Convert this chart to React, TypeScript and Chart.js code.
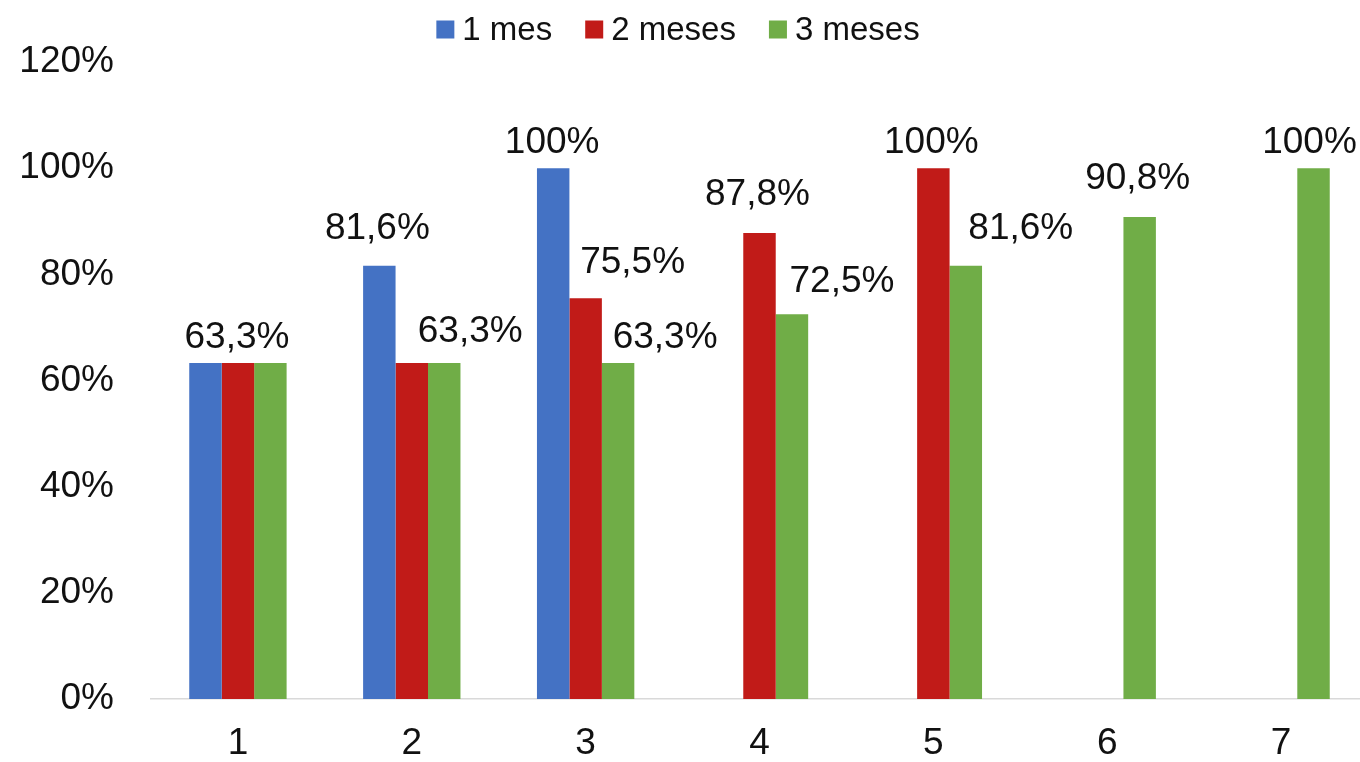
import React, { useEffect, useRef } from "react";
import { Chart, registerables } from "chart.js";

Chart.register(...registerables);

// ---- Data ----
const categories = ["1", "2", "3", "4", "5", "6", "7"];
const seriesNames = ["1 mes", "2 meses", "3 meses"];
const values1Mes: (number | null)[] = [63.3, 81.6, 100, null, null, null, null];
const values2Meses: (number | null)[] = [63.3, 63.3, 75.5, 87.8, 100, null, null];
const values3Meses: (number | null)[] = [63.3, 63.3, 63.3, 72.5, 81.6, 90.8, 100];
const yTickValues = [0, 20, 40, 60, 80, 100, 120];

// ---- Styling ----
const COLORS = ["#4472C4", "#C11B18", "#70AD47"];
const FONT_FAMILY = "'Liberation Sans', Arial, Helvetica, sans-serif";
const TEXT_COLOR = "#111111";

// Data label placement (offset of label centre from bar top centre), null = hidden
type Off = [number, number] | null;
const labelOffsets1: Off[] = [null, [-2, -37], [-1, -25], null, null, null, null];
const labelOffsets2: Off[] = [[-1, -25], null, [47, -35], [-2, -38], [-2, -25], null, null];
const labelOffsets3: Off[] = [null, [26, -31], [47, -25], [50, -32], [55, -37], [-2, -38], [-4, -25]];
const labelOffsets = [labelOffsets1, labelOffsets2, labelOffsets3];

const fmtPct = (v: number) =>
  Number.isInteger(v) ? `${v}%` : `${v.toFixed(1).replace(".", ",")}%`;

const dataLabelPlugin = {
  id: "customDataLabels",
  afterDatasetsDraw(chart: any) {
    const ctx = chart.ctx;
    ctx.save();
    ctx.font = `37px ${FONT_FAMILY}`;
    ctx.fillStyle = TEXT_COLOR;
    ctx.textAlign = "center";
    ctx.textBaseline = "middle";
    chart.data.datasets.forEach((ds: any, di: number) => {
      const meta = chart.getDatasetMeta(di);
      meta.data.forEach((el: any, i: number) => {
        const v = ds.data[i];
        const off = labelOffsets[di][i];
        if (v == null || !off) return;
        ctx.fillText(fmtPct(v), el.x + off[0], el.y + off[1]);
      });
    });
    ctx.restore();
  },
};

const legendPlugin = {
  id: "customLegend",
  afterDraw(chart: any) {
    const ctx = chart.ctx;
    const box = 18;
    const boxGap = 8;
    const itemGap = 33;
    const centerX = 678;
    const centerY = 29.5;
    ctx.save();
    ctx.font = `33px ${FONT_FAMILY}`;
    ctx.textBaseline = "middle";
    ctx.textAlign = "left";
    const items = chart.data.datasets.map((ds: any) => ({
      label: ds.label as string,
      color: ds.backgroundColor as string,
      w: ctx.measureText(ds.label).width,
    }));
    const total =
      items.reduce((s: number, it: any) => s + box + boxGap + it.w, 0) +
      itemGap * (items.length - 1);
    let x = centerX - total / 2;
    items.forEach((it: any) => {
      ctx.fillStyle = it.color;
      ctx.fillRect(x, centerY - box / 2, box, box);
      ctx.fillStyle = TEXT_COLOR;
      ctx.fillText(it.label, x + box + boxGap, centerY + 1);
      x += box + boxGap + it.w + itemGap;
    });
    ctx.restore();
  },
};

export default function App() {
  const canvasRef = useRef<HTMLCanvasElement | null>(null);

  useEffect(() => {
    if (!canvasRef.current) return;
    Chart.defaults.font.family = FONT_FAMILY;
    const chart = new Chart(canvasRef.current, {
      type: "bar",
      data: {
        labels: categories,
        datasets: [
          { label: seriesNames[0], data: values1Mes, backgroundColor: COLORS[0] },
          { label: seriesNames[1], data: values2Meses, backgroundColor: COLORS[1] },
          { label: seriesNames[2], data: values3Meses, backgroundColor: COLORS[2] },
        ],
      },
      options: {
        animation: false,
        responsive: true,
        maintainAspectRatio: false,
        layout: { padding: { top: 62, left: 0, right: 0, bottom: 0 } },
        datasets: {
          bar: { categoryPercentage: 0.56, barPercentage: 1.0 },
        },
        plugins: {
          legend: { display: false },
          tooltip: { enabled: false },
          title: { display: false },
        },
        scales: {
          x: {
            grid: { display: false, drawTicks: false },
            border: { display: true, color: "#D9D9D9", width: 1.5 },
            ticks: {
              color: TEXT_COLOR,
              font: { size: 37, family: FONT_FAMILY },
              padding: 23,
              maxRotation: 0,
              autoSkip: false,
            },
            afterFit: (scale: any) => {
              scale.height = 63;
            },
          },
          y: {
            min: 0,
            max: 120,
            grid: { display: false, drawTicks: false },
            border: { display: false },
            afterBuildTicks: (scale: any) => {
              scale.ticks = yTickValues.map((v) => ({ value: v }));
            },
            ticks: {
              color: TEXT_COLOR,
              font: { size: 37, family: FONT_FAMILY },
              padding: 37,
              callback: (v: any) => `${v}%`,
            },
            afterFit: (scale: any) => {
              scale.width = 151;
            },
          },
        },
      },
      plugins: [dataLabelPlugin, legendPlugin],
    });
    return () => chart.destroy();
  }, []);

  return (
    <div
      style={{
        position: "fixed",
        left: 0,
        top: 0,
        width: 1368,
        height: 762,
        background: "#ffffff",
      }}
    >
      <canvas ref={canvasRef} />
    </div>
  );
}
